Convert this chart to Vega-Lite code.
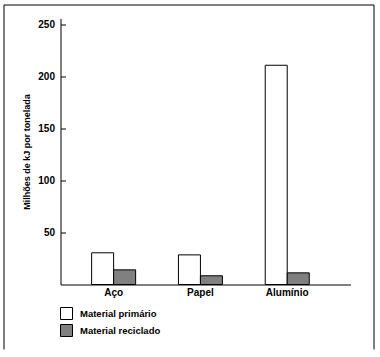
{
  "$schema": "https://vega.github.io/schema/vega-lite/v6.json",
  "width": 370,
  "height": 344.5,
  "autosize": "none",
  "padding": {"left": 3.5, "top": 4.5, "right": 6, "bottom": 7},
  "background": "white",
  "config": {
    "view": {"stroke": "black", "strokeWidth": 1, "strokeDash": [714.5, 370, 400, 0]},
    "font": "Liberation Sans",
    "axis": {"domainColor": "black", "domainWidth": 1, "tickColor": "black", "labelColor": "black", "titleColor": "black", "grid": false}
  },
  "data": {
    "values": [
      {"material": "Aço", "tipo": "Material primário", "valor": 30.5},
      {"material": "Aço", "tipo": "Material reciclado", "valor": 14.1},
      {"material": "Papel", "tipo": "Material primário", "valor": 28.5},
      {"material": "Papel", "tipo": "Material reciclado", "valor": 8.4},
      {"material": "Alumínio", "tipo": "Material primário", "valor": 211},
      {"material": "Alumínio", "tipo": "Material reciclado", "valor": 11.2}
    ]
  },
  "mark": {"type": "bar", "stroke": "black", "strokeWidth": 1},
  "encoding": {
    "x": {
      "field": "material", "type": "nominal", "sort": ["Aço", "Papel", "Alumínio"],
      "scale": {"range": [57, 347], "paddingInner": 0.493, "paddingOuter": 0.417, "align": 0.43},
      "axis": {"title": null, "orient": "bottom", "offset": -64.5, "ticks": false, "labelAngle": 0,
        "labelFontWeight": "bold", "labelFontSize": 10, "labelPadding": 3}
    },
    "xOffset": {
      "field": "tipo", "type": "nominal", "sort": ["Material primário", "Material reciclado"],
      "scale": {"paddingInner": 0, "paddingOuter": 0}
    },
    "y": {
      "field": "valor", "type": "quantitative",
      "scale": {"domain": [0, 256], "range": [280, 14], "nice": false, "zero": true},
      "axis": {"title": "Milhões de kJ por tonelada", "values": [50, 100, 150, 200, 250], "offset": -57,
        "tickSize": -5, "labelPadding": 11, "labelFontWeight": "bold", "labelFontSize": 10,
        "titleFontWeight": "bold", "titleFontSize": 9, "titleX": -34, "titleY": 147,
        "titleAngle": 270, "titleAlign": "center", "titleBaseline": "middle"}
    },
    "fill": {
      "field": "tipo", "type": "nominal",
      "scale": {"domain": ["Material primário", "Material reciclado"], "range": ["white", "#808080"]},
      "legend": {"orient": "none", "legendX": 56.5, "legendY": 302.5, "title": null,
        "symbolType": "square", "symbolSize": 144, "symbolStrokeColor": "black", "symbolStrokeWidth": 1,
        "labelFontSize": 9.5, "labelFontWeight": "bold", "labelColor": "black", "rowPadding": 0, "labelOffset": 7}
    }
  }
}
